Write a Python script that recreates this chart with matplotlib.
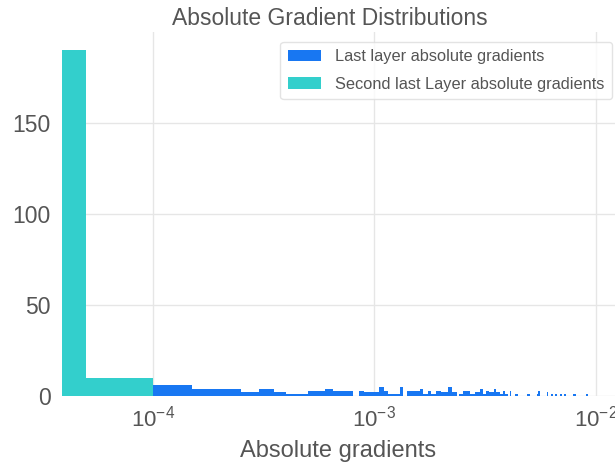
import numpy as np
import matplotlib
matplotlib.use("Agg")
import matplotlib.pyplot as plt
from matplotlib.ticker import LogLocator, NullLocator

# Valores (bordas em unidades de 1e-4)
ciano_bordas = [0.1, 0.5, 1.0]
ciano_contagens = [190, 10]

azul_bordas = [1.0, 1.5, 2.5, 3.0, 3.5, 4.0, 5.0, 6.0, 6.5, 8.0, 8.5, 9.0, 10.5,
               11.0, 11.5, 13.0, 13.5, 14.0, 16.0, 16.5, 17.5, 18.0, 19.0, 20.0,
               21.5, 22.5, 23.5, 24.0, 25.0, 26.0, 27.0, 28.5, 30.0, 31.0, 32.0,
               33.0, 34.5, 35.5, 37.0, 38.0, 39.0, 40.0, 41.0, 41.5, 43.0, 44.5,
               49.0, 50.5, 54.0, 55.0, 56.0, 60.0, 61.0, 62.5, 64.0, 65.5, 67.0,
               68.5, 70.0, 71.5, 73.0, 79.0, 81.0, 90.0, 92.0]
azul_contagens = [6, 4, 2, 4, 2, 1, 3, 4, 3, 0, 3, 2,
                  5, 3, 1, 5, 0, 3, 4, 1, 3, 1, 3,
                  2, 5, 2, 0, 1, 3, 3, 1, 2, 4, 1,
                  3, 2, 4, 2, 1, 3, 1, 0, 3, 0, 1,
                  0, 1, 0, 1, 3, 0, 2, 0, 1, 0, 1,
                  0, 1, 0, 1, 0, 1, 0, 1]

rotulos = ["Last layer absolute gradients", "Second last Layer absolute gradients"]
cor_azul = "#1877f2"
cor_ciano = "#33cfcc"
cor_texto = "#555555"

plt.rcParams["font.family"] = ["Liberation Sans", "DejaVu Sans"]
plt.rcParams["mathtext.default"] = "regular"

fig = plt.figure(figsize=(6.15, 4.66), dpi=100)
ax = fig.add_axes([62 / 615, 70 / 466, 1 - 62 / 615, 364 / 466])

ab = np.array(azul_bordas) * 1e-4
cb = np.array(ciano_bordas) * 1e-4
ax.hist((ab[:-1] + ab[1:]) / 2, bins=ab, weights=azul_contagens,
        color=cor_azul, label=rotulos[0], zorder=2)
ax.hist((cb[:-1] + cb[1:]) / 2, bins=cb, weights=ciano_contagens,
        color=cor_ciano, label=rotulos[1], zorder=2)

ax.set_xscale("log")
ax.set_xlim(10 ** -4.411, 10 ** -1.914)
ax.set_ylim(0, 200)
ax.xaxis.set_major_locator(LogLocator(base=10, numticks=10))
ax.xaxis.set_minor_locator(NullLocator())
ax.set_yticks([0, 50, 100, 150])

ax.grid(True, color="#e6e6e6", linewidth=1, zorder=0)
ax.set_axisbelow(True)
for s in ax.spines.values():
    s.set_visible(False)
ax.tick_params(axis="y", length=0, labelsize=16.5, labelcolor=cor_texto, pad=8)
ax.tick_params(axis="x", length=0, labelsize=16, labelcolor=cor_texto, pad=7)

ax.set_title("Absolute Gradient Distributions", fontsize=16.5, color=cor_texto,
             pad=5, x=0.485)
ax.set_xlabel("Absolute gradients", fontsize=17, color=cor_texto, labelpad=6)

leg = ax.legend(loc="upper right", fontsize=11.8, frameon=True, fancybox=True,
                edgecolor="#dddddd", borderaxespad=0, handlelength=2.0,
                labelspacing=0.75, borderpad=0.45, handletextpad=0.9,
                bbox_to_anchor=(612 / 615, 1 - 42 / 466),
                bbox_transform=fig.transFigure)
for t in leg.get_texts():
    t.set_color(cor_texto)

fig.savefig("out.png", dpi=100)
